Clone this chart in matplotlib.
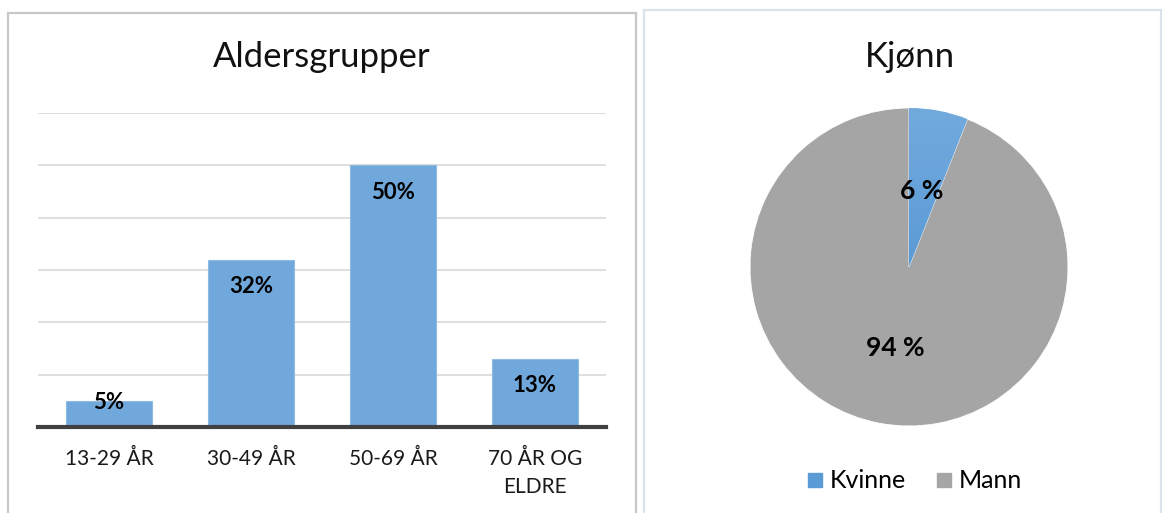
import numpy as np
import matplotlib
matplotlib.use("Agg")
import matplotlib.pyplot as plt
from matplotlib.patches import Rectangle
from matplotlib.lines import Line2D

plt.rcParams['font.family'] = ['Lato', 'DejaVu Sans']

# Age groups
age_groups = ["13-29 ÅR", "30-49 ÅR", "50-69 ÅR", "70 ÅR OG\nELDRE"]
age_share = [5, 32, 50, 13]

# Gender
genders = ["Kvinne", "Mann"]
gender_share = [6, 94]

W, H = 1162, 513
fig = plt.figure(figsize=(W / 100, H / 100), dpi=100)
fig.patch.set_facecolor("white")


def fx(px):
    return px / W


def fy(py):
    return 1 - py / H


# Panel frames
fig.add_artist(Rectangle((fx(8), fy(540)), fx(628), (540 - 13) / H,
                         transform=fig.transFigure, fill=False,
                         edgecolor="#C8C8C8", linewidth=1.6))
fig.add_artist(Rectangle((fx(644), fy(540)), fx(517), (540 - 10) / H,
                         transform=fig.transFigure, fill=False,
                         edgecolor="#DCE2EA", linewidth=1.6))

# ---- Bar chart ----
ax = fig.add_axes([fx(38), fy(427), fx(606 - 38), (427 - 113) / H])
x = np.arange(len(age_groups))
ax.bar(x, age_share, width=0.6, color="#70A8DB", edgecolor="#8DBBE4",
       linewidth=0.8, zorder=2)
ax.set_xlim(-0.5, len(age_groups) - 0.5)
ax.set_ylim(0, 60)
ax.set_yticks(np.arange(10, 61, 10))
ax.yaxis.grid(True, color="#D9D9D9", linewidth=1.2, zorder=0)
ax.tick_params(axis="y", length=0, labelleft=False)
ax.tick_params(axis="x", length=0, pad=16)
ax.set_xticks(x)
ax.set_xticklabels(age_groups, fontsize=15, color="#1a1a1a",
                   linespacing=1.5)
for s in ["top", "right", "left"]:
    ax.spines[s].set_visible(False)
ax.spines["bottom"].set_color("#404040")
ax.spines["bottom"].set_linewidth(3)
ax.spines["bottom"].set_zorder(3)
for xi, v in zip(x, age_share):
    ly = v - 5.15 if v > 8 else v - 0.4
    ax.text(xi, ly, f"{v}%", ha="center", va="center", fontsize=16,
            fontweight="bold", color="#000000", zorder=4)
fig.text(fx(322), fy(57), "Aldersgrupper", ha="center", va="center",
         fontsize=25, color="#111111")

# ---- Pie chart ----
R = 159
pax = fig.add_axes([fx(909 - R), fy(267 + R), fx(2 * R), 2 * R / H])
wedges, _ = pax.pie(gender_share, colors=["#5B9BD5", "#A5A5A5"],
                    startangle=90, counterclock=False, radius=1,
                    wedgeprops=dict(edgecolor="white", linewidth=0.6))

# soft vertical shading on the blue wedge
grad = np.linspace(0, 1, 256).reshape(-1, 1)
top = np.array([0x72, 0xAA, 0xDD]) / 255
bot = np.array([0x44, 0x8B, 0xD0]) / 255
img = top + (bot - top) * grad[..., None]
im = pax.imshow(img, extent=[-1, 1, -1, 1], origin="upper", zorder=2,
                aspect="auto")
im.set_clip_path(wedges[0])
pax.set_xlim(-1, 1)
pax.set_ylim(-1, 1)
pax.set_aspect("equal")
pax.axis("off")

pax.text((922 - 909) / R, (267 - 191) / R, f"{gender_share[0]} %",
         ha="center", va="center", fontsize=19, fontweight="bold",
         color="#000000", zorder=5)
pax.text((895 - 909) / R, (267 - 348) / R, f"{gender_share[1]} %",
         ha="center", va="center", fontsize=19, fontweight="bold",
         color="#000000", zorder=5)

fig.text(fx(910), fy(57), "Kjønn", ha="center", va="center",
         fontsize=25, color="#111111")

handles = [Line2D([], [], marker="s", linestyle="none", markersize=10,
                  markerfacecolor=c, markeredgecolor=c)
           for c in ["#5B9BD5", "#A5A5A5"]]
fig.legend(handles, genders, loc="center", bbox_to_anchor=(fx(915), fy(481)),
           ncol=2, frameon=False, fontsize=18, handlelength=0.6,
           handletextpad=0.3, columnspacing=1.2)

fig.savefig("out.png", dpi=100, facecolor="white")
